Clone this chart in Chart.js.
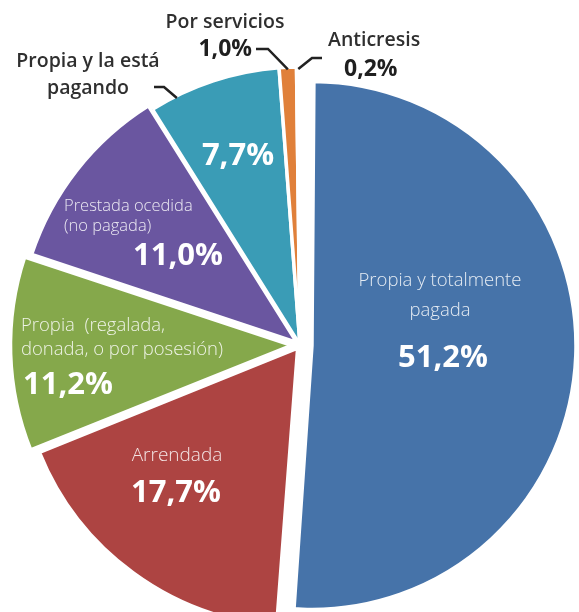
<!DOCTYPE html>
<html>
<head>
<meta charset="utf-8">
<script src="https://cdn.jsdelivr.net/npm/chart.js@4.4.1/dist/chart.umd.min.js"></script>
<style>
  html, body { margin: 0; padding: 0; background: #ffffff; }
  #tenencia { display: block; }
</style>
</head>
<body>
<canvas id="tenencia" width="579" height="612"></canvas>
<script>
// Tenencia de la vivienda (% de hogares)
var categorias = [
  'Propia y totalmente pagada',
  'Arrendada',
  'Propia (regalada, donada, o por posesión)',
  'Prestada ocedida (no pagada)',
  'Propia y la está pagando',
  'Por servicios',
  'Anticresis'
];
var porcentajes = [51.2, 17.7, 11.2, 11.0, 7.7, 1.0, 0.2];
var colores = ['#4673a9', '#ad4442', '#85a84b', '#6a56a0', '#3a9cb6', '#e0803a', '#fbfaf6'];

// la porción grande va separada del resto; las de la izquierda, apenas
var desplazamientos = [48, 16, 34, 16, 0, 0, 0];
var radioPie = 278;
var radioPropia = 264;

function pct(v) {
  return v.toFixed(1).replace('.', ',') + '%';
}

// textos de cada porción: dentro (blanco) o fuera con línea guía
var rotulos = [
  { lineas: ['Propia y totalmente', 'pagada'], x: 440, ys: [281, 311], size: 18.5, align: 'center', vx: 443, vy: 358, valign: 'center' },
  { lineas: ['Arrendada'], x: 177, ys: [456], size: 19, align: 'center', vx: 176, vy: 493, valign: 'center' },
  { lineas: ['Propia  (regalada,', 'donada, o por posesión)'], x: 21, ys: [326, 350], size: 18.5, align: 'left', vx: 23, vy: 385, valign: 'left' },
  { lineas: ['Prestada ocedida', '(no pagada)'], x: 64, ys: [206, 226], size: 16.5, align: 'left', vx: 133, vy: 256, valign: 'left' },
  { fuera: true, lineas: ['Propia y la está', 'pagando'], x: 88, ys: [61, 88], align: 'center', vx: 238, vy: 156, valign: 'center', valorDentro: true,
    guia: [[154, 87], [164, 87]], frac: 0.2 },
  { fuera: true, lineas: ['Por servicios'], x: 225, ys: [22], align: 'center', vx: 252, vy: 49, valign: 'right',
    guia: [[256, 49], [268, 49]], frac: 0.5 },
  { fuera: true, lineas: ['Anticresis'], x: 328, ys: [40], align: 'left', vx: 344, vy: 69, valign: 'left',
    guia: [[322, 58], [312, 58]], frac: 0.5 }
];

var ajusteRadio = {
  id: 'ajusteRadio',
  afterDatasetsUpdate: function (chart) {
    // el offset de Chart.js también agranda el arco; se compensa aquí
    var arco = chart.getDatasetMeta(0).data[0];
    arco.outerRadius = radioPropia - desplazamientos[0] / 4;
  }
};

var textos = {
  id: 'textos',
  afterDatasetsDraw: function (chart) {
    var ctx = chart.ctx;
    var arcos = chart.getDatasetMeta(0).data;
    ctx.save();
    ctx.textBaseline = 'middle';
    rotulos.forEach(function (r, i) {
      if (r.fuera) {
        ctx.fillStyle = '#2f2f2f';
        ctx.font = '600 19.5px "Open Sans"';
      } else {
        ctx.fillStyle = 'rgba(255,255,255,0.86)';
        ctx.font = '300 ' + r.size + 'px "Open Sans"';
      }
      ctx.textAlign = r.align;
      r.lineas.forEach(function (t, k) {
        ctx.fillText(t, r.x, r.ys[k]);
      });

      if (r.fuera && !r.valorDentro) {
        ctx.fillStyle = '#1f1f1f';
        ctx.font = 'bold 23px "Open Sans"';
      } else {
        ctx.fillStyle = '#ffffff';
        ctx.font = 'bold 31px "Open Sans"';
      }
      ctx.textAlign = r.valign;
      ctx.fillText(pct(porcentajes[i]), r.vx, r.vy);

      if (r.guia) {
        var a = arcos[i];
        var ang = a.startAngle + r.frac * (a.endAngle - a.startAngle);
        var rr = a.outerRadius - 2;
        ctx.strokeStyle = '#222222';
        ctx.lineWidth = 2.5;
        ctx.beginPath();
        ctx.moveTo(r.guia[0][0], r.guia[0][1]);
        ctx.lineTo(r.guia[1][0], r.guia[1][1]);
        ctx.lineTo(a.x + Math.cos(ang) * rr, a.y + Math.sin(ang) * rr);
        ctx.stroke();
      }
    });
    ctx.restore();
  }
};

var grafico = new Chart(document.getElementById('tenencia'), {
  type: 'pie',
  data: {
    labels: categorias,
    datasets: [{
      data: porcentajes,
      backgroundColor: colores,
      borderColor: '#ffffff',
      borderWidth: 3.5,
      offset: desplazamientos
    }]
  },
  options: {
    responsive: false,
    animation: false,
    radius: radioPie,
    layout: { padding: { left: 21, top: 78, right: 0, bottom: 0 } },
    plugins: {
      legend: { display: false },
      tooltip: { enabled: false }
    }
  },
  plugins: [ajusteRadio, textos]
});
</script>
</body>
</html>
